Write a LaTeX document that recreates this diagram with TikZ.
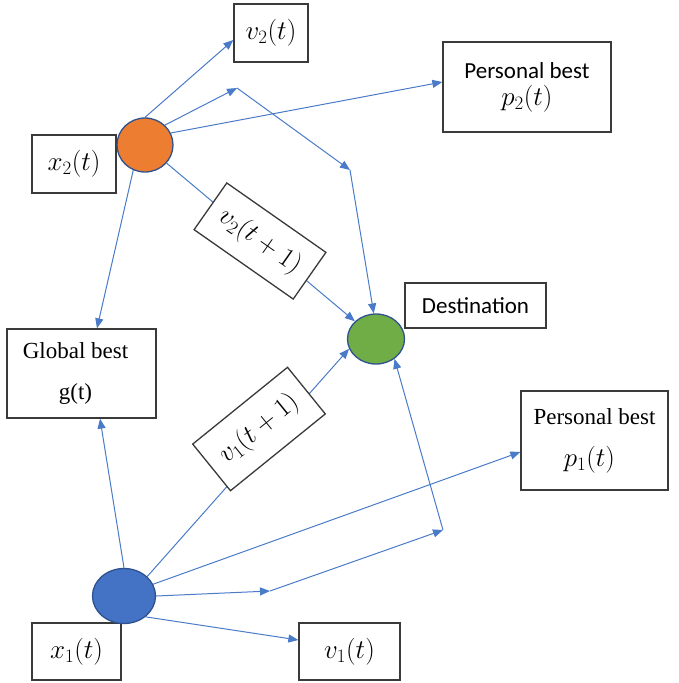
\RequirePackage{fix-cm}
\documentclass[tikz,border=0pt]{standalone}
\usepackage{fontspec}
\setmainfont{Liberation Serif}
\newfontfamily\carlito{Carlito}
\usetikzlibrary{arrows.meta,shapes.geometric}
\definecolor{arrowblue}{HTML}{4A7BC8}
\definecolor{boxgray}{HTML}{3A3A3A}
\definecolor{dotorange}{HTML}{ED7D31}
\definecolor{dotgreen}{HTML}{70AD47}
\definecolor{dotblue}{HTML}{4472C4}
\definecolor{dotedge}{HTML}{2F528F}
\newcommand\mth[1]{{\fontsize{27}{30}\selectfont$#1$}}
\pgfdeclarelayer{background}
\pgfsetlayers{background,main}
\begin{document}
\begin{tikzpicture}[x=1pt,y=-1pt,
  conn/.style={draw=arrowblue, line width=1pt, -{Triangle[length=10pt,width=8pt]}},
  box/.style={draw=boxgray, line width=1.3pt, fill=white, inner sep=0pt, align=center,
              font=\fontsize{23}{27}\selectfont},
  dot/.style={ellipse, draw=dotedge, line width=1.3pt, inner sep=0pt}]
\useasboundingbox (0,0) rectangle (679,683);

% boxes
\node[box, minimum width=74, minimum height=58] (v2t) at (271,33) {\mth{v_2(t)}};
\node[box, minimum width=168, minimum height=90] (p2) at (527,87) {{\carlito Personal best}\\[0pt]\mth{p_2(t)}};
\node[box, minimum width=84, minimum height=58] (x2t) at (74,164) {\mth{x_2(t)}};
\node[box, minimum width=141, minimum height=45, font=\carlito\fontsize{23}{27}\selectfont] (dest) at (475.5,305.5) {Destination};
\node[box, minimum width=149, minimum height=89] (gb) at (81.5,373.5) {Global best\hspace*{12pt}\\[14pt]g(t)\hspace*{12pt}};
\node[box, minimum width=147, minimum height=99] (p1) at (594.5,440.5) {Personal best\\[15pt]\mth{p_1(t)}\hspace*{10pt}};
\node[box, minimum width=89, minimum height=57] (x1t) at (76.5,651.5) {\mth{x_1(t)}};
\node[box, minimum width=101, minimum height=57] (v1t) at (349.5,651.5) {\mth{v_1(t)}};
\node[box, rotate=-35, minimum width=121, minimum height=57] (v2n) at (260,241) {\mth{v_2(t+1)}};
\node[box, rotate=39, minimum width=122, minimum height=60] (v1n) at (259,429) {\mth{v_1(t+1)}};

% particles
\node[dot, fill=dotorange, minimum width=56, minimum height=54] (o2) at (145,145) {};
\node[dot, fill=dotgreen, minimum width=57, minimum height=50] (g) at (376,339) {};
\node[dot, fill=dotblue, minimum width=63, minimum height=55] (b) at (124,596) {};

% free ends
\coordinate (c1) at (237,88);
\coordinate (c2) at (350,170);
\coordinate (c3) at (270,591);
\coordinate (c4) at (443,530);

\begin{pgfonlayer}{background}
\draw[conn] (o2.north) -- ([yshift=-7pt]v2t.west);
\draw[conn] (o2.45) -- (c1);
\draw[conn] (c1) -- (c2);
\draw[conn] (c2) -- (g.95);
\draw[conn] (o2.25) -- ([yshift=5pt]p2.west);
\draw[conn] (o2) -- (g);
\draw[conn] (o2.245) -- ([xshift=15.5pt]gb.north);
\draw[conn] (b.north) -- ([xshift=18.5pt]gb.south);
\draw[conn] (b.40) -- (g.200);
\draw[conn] (b.22) -- ([yshift=-11.5pt]p1.west);
\draw[conn] (b.east) -- (c3);
\draw[conn] (c3) -- (c4);
\draw[conn] (c4) -- (g.313);
\draw[conn] (b.316) -- ([yshift=11.5pt]v1t.west);
\end{pgfonlayer}
\end{tikzpicture}
\end{document}
